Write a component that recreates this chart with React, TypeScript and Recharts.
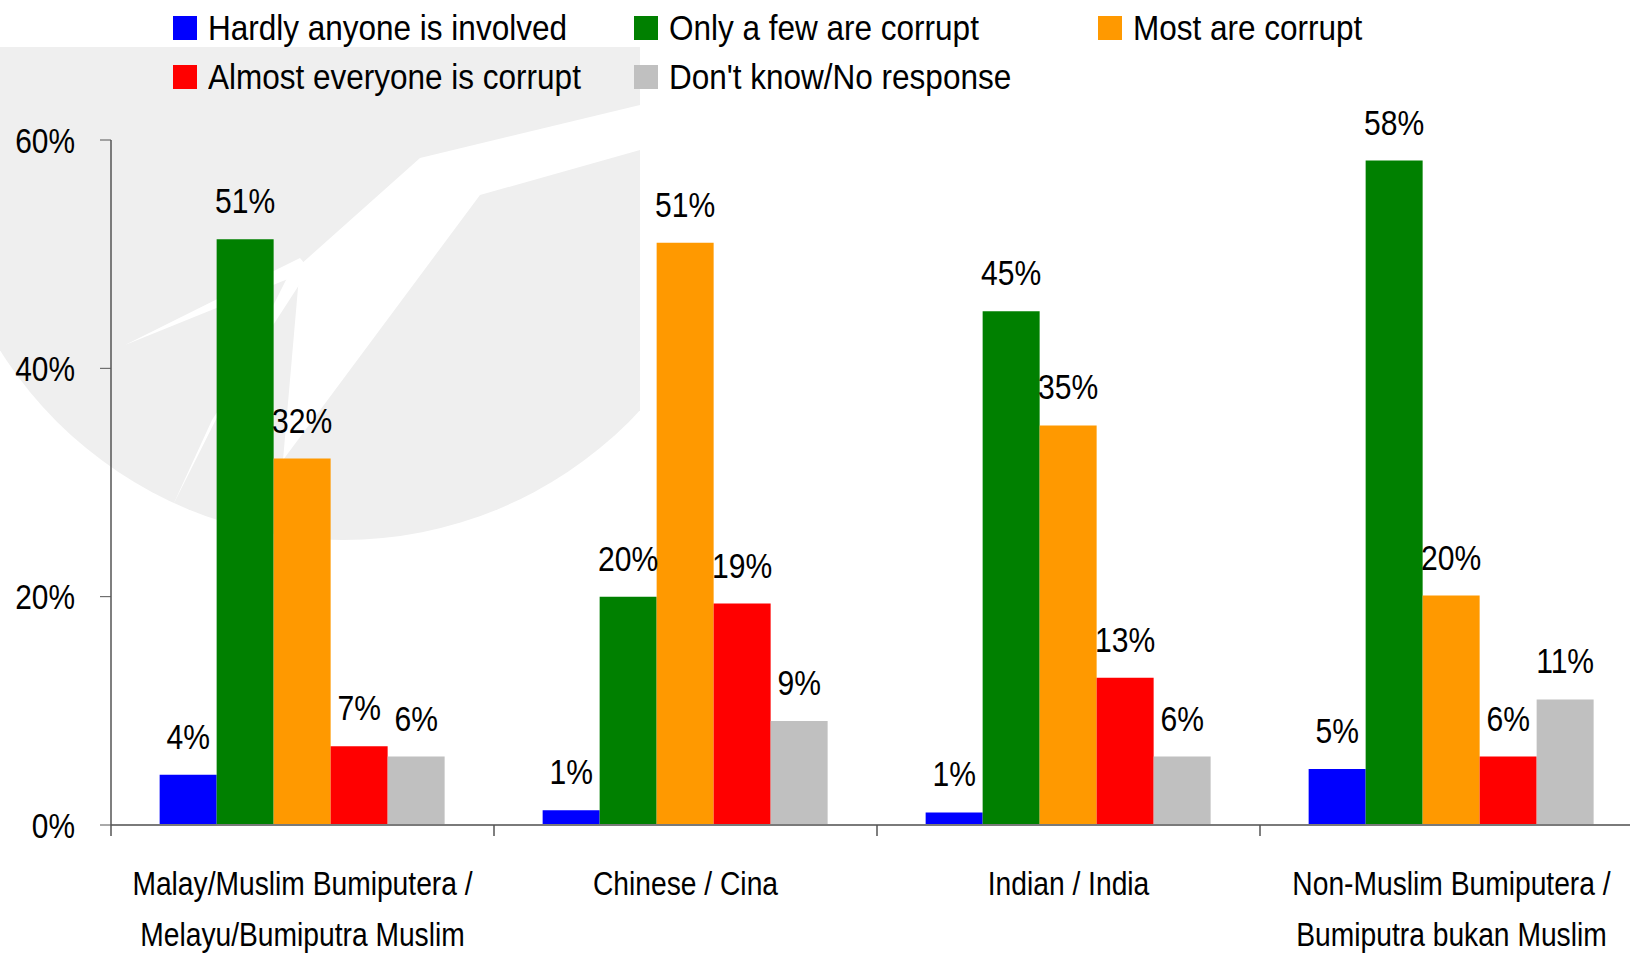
import React from "react";
import { BarChart, Bar, XAxis, YAxis, LabelList } from "recharts";

// Narrow Arial look: Liberation Sans squeezed horizontally
const FONT = "'Liberation Sans', Arial, sans-serif";

const categories = [
  "Malay/Muslim Bumiputera / Melayu/Bumiputra Muslim",
  "Chinese / Cina",
  "Indian / India",
  "Non-Muslim Bumiputera / Bumiputra bukan Muslim",
];
const categoryLines = [
  ["Malay/Muslim Bumiputera /", "Melayu/Bumiputra Muslim"],
  ["Chinese / Cina"],
  ["Indian / India"],
  ["Non-Muslim Bumiputera /", "Bumiputra bukan Muslim"],
];

const hardlyAnyone = [4.4, 1.3, 1.1, 4.9];
const onlyAFew = [51.3, 20.0, 45.0, 58.2];
const mostCorrupt = [32.1, 51.0, 35.0, 20.1];
const almostEveryone = [6.9, 19.4, 12.9, 6.0];
const dontKnow = [6.0, 9.1, 6.0, 11.0];

const yTicks = [0, 20, 40, 60];

const series = [
  { key: "hardly", name: "Hardly anyone is involved", color: "#0000FF", values: hardlyAnyone },
  { key: "few", name: "Only a few are corrupt", color: "#008000", values: onlyAFew },
  { key: "most", name: "Most are corrupt", color: "#FF9900", values: mostCorrupt },
  { key: "almost", name: "Almost everyone is corrupt", color: "#FF0000", values: almostEveryone },
  { key: "dk", name: "Don't know/No response", color: "#C0C0C0", values: dontKnow },
];

const data = categories.map((c, i) => {
  const row: any = { category: c };
  series.forEach((s) => (row[s.key] = s.values[i]));
  return row;
});

// legend slots in the original two-row layout
const legendSlots = [
  { left: 173, top: 15 },
  { left: 634, top: 15 },
  { left: 1098, top: 15 },
  { left: 173, top: 64 },
  { left: 634, top: 64 },
];

// category label plus a tick mark on the left edge of its band
function CategoryTick(props: any) {
  const { x, y, payload } = props;
  const half = payload.offset || 0;
  const idx = categories.indexOf(payload.value);
  const lines = categoryLines[idx] || [payload.value];
  return (
    <g>
      <line x1={x - half} x2={x - half} y1={y} y2={y + 11} stroke="#555" strokeWidth={1.5} />
      {idx === categories.length - 1 && (
        <line x1={x + half} x2={x + half} y1={y} y2={y + 11} stroke="#555" strokeWidth={1.5} />
      )}
      {lines.map((l, i) => (
        <text
          key={i}
          transform={`translate(${x},${y + 70 + i * 51}) scale(0.83,1)`}
          textAnchor="middle"
          fontSize={34}
          fontFamily={FONT}
          fill="#000"
        >
          {l}
        </text>
      ))}
    </g>
  );
}

function YTick(props: any) {
  const { x, y, payload } = props;
  return (
    <text
      transform={`translate(${x},${y}) scale(0.83,1)`}
      dy="0.355em"
      textAnchor="end"
      fontSize={36}
      fontFamily={FONT}
      fill="#000"
    >
      {payload.value}%
    </text>
  );
}

function ValueLabel(props: any) {
  const { x, y, width, value } = props;
  return (
    <text
      transform={`translate(${x + width / 2},${y - 26}) scale(0.86,1)`}
      textAnchor="middle"
      fontSize={35}
      fontFamily={FONT}
      fill="#000"
    >
      {Math.round(value)}%
    </text>
  );
}

function Watermark() {
  return (
    <svg width={1630} height={954} style={{ position: "absolute", left: 0, top: 0 }}>
      <defs>
        <clipPath id="wm">
          <rect x={0} y={47} width={640} height={600} />
        </clipPath>
      </defs>
      <g clipPath="url(#wm)">
        <circle cx={343} cy={135} r={405} fill="#efefef" />
        <polygon points="125,345 300,258 310,270" fill="#fff" />
        <polygon points="173,505 290,272 310,268 212,420" fill="#fff" />
        <polygon points="300,265 420,158 640,105 640,150 480,195 283,460" fill="#fff" />
      </g>
    </svg>
  );
}

export default function App() {
  return (
    <div
      style={{
        position: "fixed",
        left: 0,
        top: 0,
        width: 1630,
        height: 954,
        overflow: "hidden",
        background: "#fff",
        fontFamily: FONT,
      }}
    >
      <Watermark />
      {series.map((s, i) => (
        <div
          key={s.key}
          style={{
            position: "absolute",
            left: legendSlots[i].left,
            top: legendSlots[i].top,
            height: 26,
            display: "flex",
            alignItems: "center",
            whiteSpace: "nowrap",
          }}
        >
          <div style={{ width: 24, height: 24, background: s.color, marginRight: 11 }} />
          <span
            style={{
              display: "inline-block",
              fontSize: 35,
              color: "#000",
              lineHeight: "26px",
              transform: "scaleX(0.9)",
              transformOrigin: "left center",
            }}
          >
            {s.name}
          </span>
        </div>
      ))}
      <div style={{ position: "absolute", left: 0, top: 0 }}>
        <BarChart
          width={1650}
          height={954}
          data={data}
          margin={{ top: 140, right: 7, left: 0, bottom: 0 }}
          barCategoryGap="12.7%"
          barGap={0}
        >
          <XAxis
            dataKey="category"
            type="category"
            height={129}
            axisLine={{ stroke: "#7a7a7a", strokeWidth: 2 }}
            tickLine={false}
            tickSize={0}
            tickMargin={0}
            interval={0}
            tick={<CategoryTick />}
          />
          <YAxis
            domain={[0, 60]}
            ticks={yTicks}
            width={111}
            tickSize={11}
            tickMargin={25}
            axisLine={{ stroke: "#555", strokeWidth: 1.5 }}
            tickLine={{ stroke: "#555" }}
            tick={<YTick />}
          />
          {series.map((s) => (
            <Bar
              key={s.key}
              dataKey={s.key}
              name={s.name}
              fill={s.color}
              isAnimationActive={false}
            >
              <LabelList dataKey={s.key} content={<ValueLabel />} />
            </Bar>
          ))}
        </BarChart>
      </div>
    </div>
  );
}
